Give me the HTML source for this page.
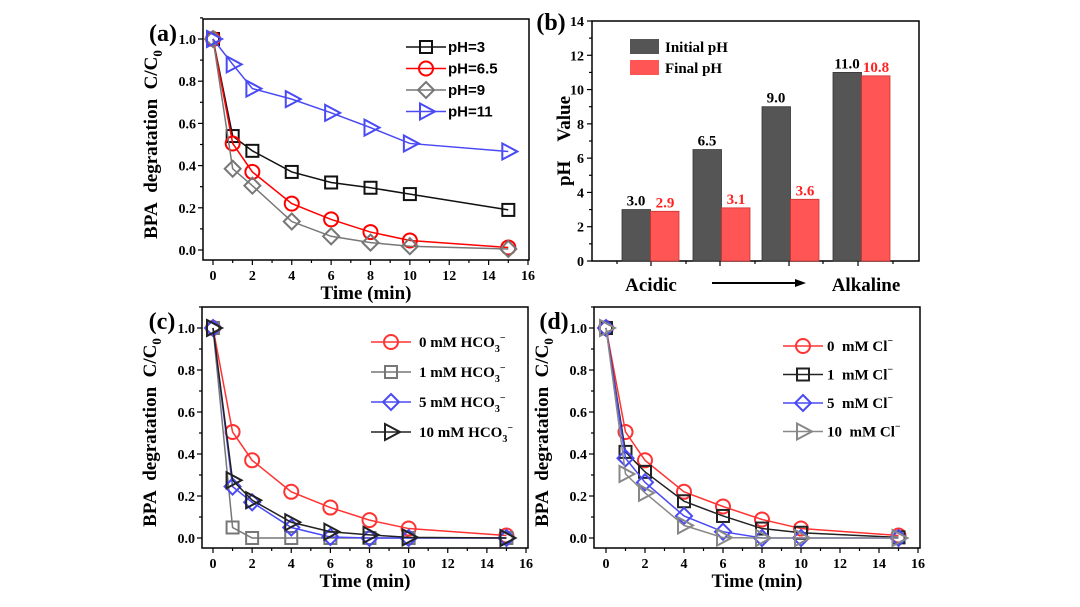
<!DOCTYPE html>
<html><head><meta charset="utf-8"><style>
html,body{margin:0;padding:0;background:#fff;width:1080px;height:607px;overflow:hidden}
svg text{font-family:"Liberation Serif",serif;font-weight:bold}
</style></head><body>
<svg id="s" width="1080" height="607" xmlns="http://www.w3.org/2000/svg"></svg>
<script>
const S=document.getElementById('s');let h='';
function T(x,y,t,o){o=o||{};h+=`<text x="${x}" y="${y}" font-size="${o.fs||12}" fill="${o.c||'#000'}" text-anchor="${o.a||'middle'}" ${o.tr?`transform="${o.tr}"`:''} ${o.ff?`style="font-family:${o.ff}"`:''}>${t}</text>`;}
function L(x1,y1,x2,y2,c,w){h+=`<line x1="${x1}" y1="${y1}" x2="${x2}" y2="${y2}" stroke="${c||'#000'}" stroke-width="${w||1.5}"/>`;}
function mk(type,x,y,c,r){r=r||7;const st=`fill="none" stroke="${c}" stroke-width="2"`;
 if(type=='s')h+=`<rect x="${x-r+1}" y="${y-r+1}" width="${2*r-2}" height="${2*r-2}" ${st}/>`;
 else if(type=='o')h+=`<circle cx="${x}" cy="${y}" r="${r}" ${st}/>`;
 else if(type=='d')h+=`<polygon points="${x},${y-r-1} ${x+r+1},${y} ${x},${y+r+1} ${x-r-1},${y}" ${st}/>`;
 else h+=`<polygon points="${x-r+1},${y-r-1} ${x+r+2},${y} ${x-r+1},${y+r+1}" ${st}/>`;}
const SP='&#160;';
function panel(o){const {l,r,t,b,x0,x16,y0,y1}=o;
 h+=`<rect x="${l}" y="${t}" width="${r-l}" height="${b-t}" fill="none" stroke="#000" stroke-width="1.5"/>`;
 const X=v=>x0+(x16-x0)*v/16,Y=v=>y0+(y1-y0)*v;
 for(let v=0;v<=16;v++){L(X(v),b,X(v),b+(v%2?3:5),'#000',1.2);if(v%2==0)T(X(v),b+20,v,{fs:14});}
 for(let k=0;k<=5;k++){let v=k*0.2;L(l,Y(v),l-5,Y(v),'#000',1.2);T(l-7,Y(v)+5,v.toFixed(1),{fs:14,a:'end'});L(l,Y(v+0.1),l-3,Y(v+0.1),'#000',1.2);}
 T((l+r)/2,b+39,'Time (min)',{fs:19});
 T(0,0,`BPA${SP}${SP}degratation${SP}${SP}C/C<tspan font-size="13" dy="5">0</tspan>`,{fs:19,tr:`translate(${l-46},${(t+b)/2+5}) rotate(-90)`});
 T(l-40,t+22,o.lab,{fs:24});
 const xs=[0,1,2,4,6,8,10,15];
 o.series.forEach(s=>{let p=xs.map((x,i)=>[X(x),Y(s.v[i])]);
  h+=`<polyline points="${p.map(q=>q.join(',')).join(' ')}" fill="none" stroke="${s.c}" stroke-width="1.5"/>`;
  p.forEach(q=>mk(s.m,q[0],q[1],s.c));});
 o.series.forEach((s,i)=>{let ly=o.ly+i*o.lg;L(o.lx-20,ly,o.lx+20,ly,s.c,1.5);mk(s.m,o.lx,ly,s.c);
  h+=`<text x="${o.lx+o.lo}" y="${ly+5}" font-size="${o.lfs||15}" style="${o.lff||''}">${s.n}</text>`;});
}
panel({l:203,r:529,t:19,b:260,x0:213,x16:528,y0:250,y1:39,lab:'(a)',lx:426,ly:47,lg:21.5,lfs:15,lo:22,lff:'font-family:Liberation Sans,sans-serif',
series:[{n:'pH=3',m:'s',c:'#111',v:[1,.54,.47,.37,.32,.295,.265,.19]},
{n:'pH=6.5',m:'o',c:'#f00',v:[1,.505,.37,.22,.145,.085,.045,.012]},
{n:'pH=9',m:'d',c:'#777',v:[1,.385,.305,.135,.065,.035,.018,.005]},
{n:'pH=11',m:'t',c:'#4a4af5',v:[1,.88,.765,.715,.65,.58,.505,.467]}]});
const HC=k=>`${k} mM HCO<tspan font-size="10" dy="5">3</tspan><tspan font-size="10" dy="-11">−</tspan>`;
panel({l:202,r:528,t:307,b:548,x0:213,x16:526,y0:538,y1:328,lab:'(c)',lx:391,ly:342,lg:30,lfs:15,lo:28,
series:[{n:HC(0),m:'o',c:'#f33',v:[1,.505,.37,.22,.145,.085,.045,.012]},
{n:HC(1),m:'s',c:'#777',v:[1,.05,0,0,0,0,0,0]},
{n:HC(5),m:'d',c:'#4a4af5',v:[1,.245,.17,.05,.005,0,0,0]},
{n:HC(10),m:'t',c:'#222',v:[1,.275,.18,.075,.03,.015,.003,0]}]});
const CL=k=>`${k}${SP} mM Cl<tspan font-size="10" dy="-7">−</tspan>`;
panel({l:594,r:920,t:307,b:548,x0:606,x16:918,y0:538,y1:328,lab:'(d)',lx:803,ly:346,lg:28.5,lfs:15,lo:24,
series:[{n:CL(0),m:'o',c:'#f33',v:[1,.505,.37,.22,.15,.088,.045,.012]},
{n:CL(1),m:'s',c:'#222',v:[1,.41,.315,.175,.105,.045,.025,.003]},
{n:CL(5),m:'d',c:'#4a4af5',v:[1,.38,.265,.105,.03,0,0,0]},
{n:CL(10),m:'t',c:'#888',v:[1,.305,.215,.06,.002,0,0,0]}]});
{const l=592,r=919,t=21,b=261,Y=v=>b-(b-t)*v/14;
 h+=`<rect x="${l}" y="${t}" width="${r-l}" height="${b-t}" fill="none" stroke="#000" stroke-width="1.5"/>`;
 for(let v=0;v<=14;v++){L(l,Y(v),l-(v%2?3:5),Y(v),'#000',1.2);if(v%2==0)T(l-8,Y(v)+5,v,{fs:14,a:'end'});}
 [617,651,686,720,755,789,823,858,893].forEach((x,i)=>L(x,b,x,b+(i%2?5:3),'#000',1.2));
 const g=[[622,3.0,2.9],[693,6.5,3.1],[762,9.0,3.6],[833,11.0,10.8]];
 g.forEach(q=>{h+=`<rect x="${q[0]}" y="${Y(q[1])}" width="28.5" height="${b-Y(q[1])}" fill="#555" stroke="#333" stroke-width=".8"/>`;
  h+=`<rect x="${q[0]+28.5}" y="${Y(q[2])}" width="28.5" height="${b-Y(q[2])}" fill="#f55" stroke="#c33" stroke-width=".8"/>`;
  T(q[0]+14,Y(q[1])-4,q[1].toFixed(1),{fs:15});T(q[0]+43,Y(q[2])-4,q[2].toFixed(1),{fs:15,c:'#f22'});});
 h+=`<rect x="630" y="39" width="29" height="15" fill="#555"/><rect x="630" y="60" width="29" height="15" fill="#f55"/>`;
 T(665,52,'Initial pH',{fs:15,a:'start'});T(665,73,'Final pH',{fs:15,a:'start'});
 T(551,30,'(b)',{fs:24});
 T(0,0,`pH${SP}${SP}${SP}${SP}Value`,{fs:19,tr:`translate(570,${(t+b)/2}) rotate(-90)`});
 T(651,291,'Acidic',{fs:19});T(866,291,'Alkaline',{fs:19});
 L(712,283,795,283,'#000',2);h+=`<polygon points="795,279 806,283 795,287" fill="#000"/>`;
}
S.innerHTML=h;
</script>
</body></html>
